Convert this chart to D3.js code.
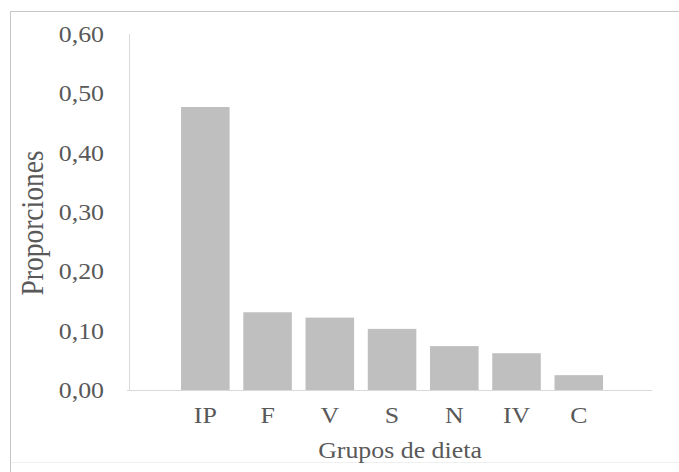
<!DOCTYPE html>
<html>
<head>
<meta charset="utf-8">
<script src="https://cdn.jsdelivr.net/npm/d3@7"></script>
<style>
  body { margin: 0; background: #fff; }
  svg text { font-family: "Liberation Serif", "Times New Roman", serif; fill: #595959; }
</style>
</head>
<body>
<div id="chart"></div>
<script>
// data
var grupos = ["IP", "F", "V", "S", "N", "IV", "C"];
var proporciones = [0.477, 0.131, 0.122, 0.103, 0.074, 0.062, 0.025];
var yTicks = [0, 0.1, 0.2, 0.3, 0.4, 0.5, 0.6];

var width = 679, height = 472;
var stretch = 1.15; // text in the picture is a bit wider than tall

var svg = d3.select("#chart").append("svg")
        .attr("width", width)
        .attr("height", height);

// frame
svg.append("line").attr("x1", 10.5).attr("y1", 11.5).attr("x2", width).attr("y2", 11.5)
        .attr("stroke", "#c6c6c6");
svg.append("line").attr("x1", 10.5).attr("y1", 11.5).attr("x2", 10.5).attr("y2", height)
        .attr("stroke", "#c6c6c6");
svg.append("line").attr("x1", 11).attr("y1", 462.5).attr("x2", width).attr("y2", 462.5)
        .attr("stroke", "#efefef");

var x = d3.scaleBand()
        .domain(grupos)
        .range([174.2, 609.9])
        .paddingInner(0.22)
        .paddingOuter(0.11);

var y = d3.scaleLinear()
        .domain([0, 0.6])
        .range([390, 34]);

var fmt = d3.formatLocale({decimal: ",", thousands: ".", grouping: [3], currency: ["", "€"]}).format(".2f");

// y axis labels
var yAxis = svg.append("g")
        .attr("transform", "translate(129,0)")
        .call(d3.axisLeft(y).tickValues(yTicks).tickSize(0).tickPadding(25).tickFormat(fmt));
yAxis.select(".domain").remove();
yAxis.selectAll("text")
        .attr("x", null)
        .attr("dy", "0.34em")
        .attr("transform", "translate(-25,0) scale(" + stretch + ",1)")
        .style("font-size", "22.5px")
        .style("font-family", "'Liberation Serif', serif")
        .attr("fill", "#595959");

// axis lines
svg.append("line")
        .attr("x1", 129.5).attr("x2", 129.5)
        .attr("y1", y(0.6)).attr("y2", y(0))
        .attr("stroke", "#d9d9d9");

// bars
svg.append("g").selectAll("rect")
        .data(proporciones)
        .enter().append("rect")
        .attr("x", function (d, i) { return x(grupos[i]); })
        .attr("y", function (d) { return y(d); })
        .attr("width", x.bandwidth())
        .attr("height", function (d) { return y(0) - y(d); })
        .attr("fill", "#bfbfbf");

svg.append("line")
        .attr("x1", 127).attr("x2", 652)
        .attr("y1", y(0) + 0.5).attr("y2", y(0) + 0.5)
        .attr("stroke", "#d9d9d9");

// category labels
svg.append("g").selectAll("text")
        .data(grupos)
        .enter().append("text")
        .attr("transform", function (d) {
            return "translate(" + (x(d) + x.bandwidth() / 2) + ",423) scale(" + stretch + ",1)";
        })
        .attr("text-anchor", "middle")
        .style("font-size", "22.5px")
        .text(function (d) { return d; });

// axis titles
svg.append("text")
        .attr("transform", "translate(400,458) scale(" + stretch + ",1)")
        .attr("text-anchor", "middle")
        .style("font-size", "22.5px")
        .text("Grupos de dieta");

svg.append("text")
        .attr("transform", "translate(43,223) scale(" + stretch + ",1) rotate(-90)")
        .attr("text-anchor", "middle")
        .style("font-size", "27.5px")
        .text("Proporciones");
</script>
</body>
</html>
